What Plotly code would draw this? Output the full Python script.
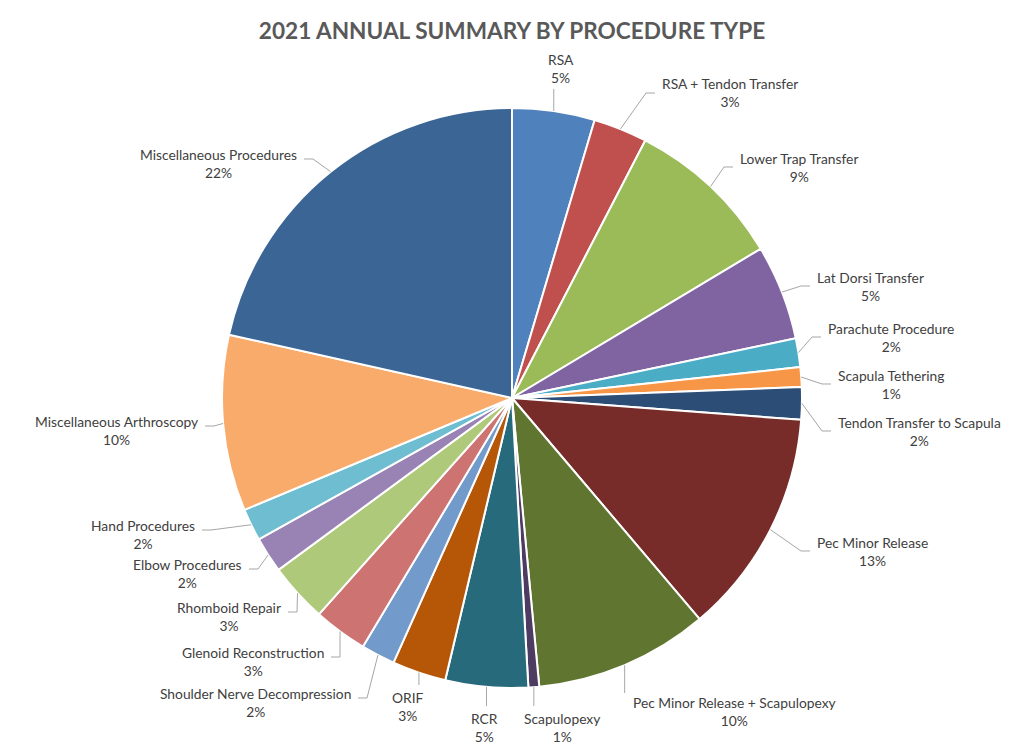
import math
import plotly.graph_objects as go

# ---- data ----
labels = ["RSA", "RSA + Tendon Transfer", "Lower Trap Transfer", "Lat Dorsi Transfer",
          "Parachute Procedure", "Scapula Tethering", "Tendon Transfer to Scapula",
          "Pec Minor Release", "Pec Minor Release + Scapulopexy", "Scapulopexy", "RCR",
          "ORIF", "Shoulder Nerve Decompression", "Glenoid Reconstruction",
          "Rhomboid Repair", "Elbow Procedures", "Hand Procedures",
          "Miscellaneous Arthroscopy", "Miscellaneous Procedures"]
values = [4.6, 3.0, 8.8, 5.3, 1.6, 1.1, 1.8, 12.6, 9.7, 0.6, 4.6, 3.0, 1.9, 3.0,
          3.3, 2.0, 1.8, 9.8, 21.5]

# ---- styles ----
colors = ["#4F81BD", "#C0504D", "#9BBB59", "#8064A2", "#4BACC6", "#F79646", "#2C4D75",
          "#772C2A", "#5F7530", "#4D3B62", "#276A7C", "#B65708", "#729ACA", "#CD7371",
          "#AFC97A", "#9983B5", "#6FBDD1", "#F9AB6B", "#3A6595"]

# label placement (side, edge/center x px, block-center y px)
label_place = [("c", 561, 68), ("r", 660, 93), ("r", 738, 167), ("r", 815, 286),
               ("r", 826, 337), ("r", 836, 384), ("r", 836, 431), ("r", 815, 551),
               ("cb", 734, 711), ("c", 562, 727), ("c", 484, 727), ("c", 408, 706),
               ("l", 353, 702), ("l", 326, 661), ("l", 283, 616), ("l", 244, 573),
               ("l", 197, 534), ("l", 200, 430), ("l", 299, 163)]

W, H = 1024, 751
MT, MB = 108, 63
CX, CY = 512, MT + (H - MT - MB) / 2
R = (H - MT - MB) / 2
PH = H - MT - MB
LABEL_FONT = dict(family="Lato, sans-serif", size=13.8, color="#404040")


def px(x):
    return x / W


def py(y):
    return (H - MB - y) / PH


fig = go.Figure(go.Pie(
    labels=labels, values=values, sort=False, direction="clockwise", rotation=0,
    marker=dict(colors=colors, line=dict(color="white", width=2)),
    textinfo="none", hoverinfo="label+percent", showlegend=False,
    domain=dict(x=[0, 1], y=[0, 1]),
))

total = sum(values)
cum = 0.0
annotations = []
shapes = []
for lab, v, (side, lx, ly) in zip(labels, values, label_place):
    mid = (cum + v / 2) / total * 2 * math.pi
    cum += v
    ex = CX + R * math.sin(mid)
    ey = CY - R * math.cos(mid)
    pct = int(v / total * 100 + 0.5)
    text = f"{lab}<br>{pct}%"
    if side == "r":
        endx, endy = lx - 5, ly
        pts = [(ex, ey), (endx - 9, endy), (endx, endy)]
        xanchor, ax = "left", lx
    elif side == "l":
        endx, endy = lx + 5, ly - 4
        pts = [(ex, ey), (endx + 9, endy), (endx, endy)]
        xanchor, ax = "right", lx
    else:
        if ly < CY:
            endy = ly + 21
        else:
            endy = ly - (18 if side == "cb" else 21)
        pts = [(ex, ey), (ex, endy)]
        xanchor, ax = "center", lx
    path = "M " + " L ".join(f"{px(x):.5f},{py(y):.5f}" for x, y in pts)
    shapes.append(dict(type="path", xref="paper", yref="paper", path=path,
                       line=dict(color="#A6A6A6", width=1)))
    annotations.append(dict(text=text, x=px(ax), y=py(ly), xref="paper", yref="paper",
                            xanchor=xanchor, yanchor="middle", align="center",
                            showarrow=False, font=LABEL_FONT))

fig.update_layout(
    width=W, height=H,
    margin=dict(l=0, r=0, t=MT, b=MB),
    paper_bgcolor="white", plot_bgcolor="white",
    title=dict(text="<b>2021 ANNUAL SUMMARY BY PROCEDURE TYPE</b>", x=0.5, xanchor="center",
               y=1 - 31 / H, yanchor="middle", yref="container",
               font=dict(family="Lato, sans-serif", size=22.6, color="#595959")),
    annotations=annotations, shapes=shapes,
)

fig.write_html("out.html", config={"displayModeBar": False},
               post_script="document.body.style.margin='0';document.body.style.overflow='hidden';")
